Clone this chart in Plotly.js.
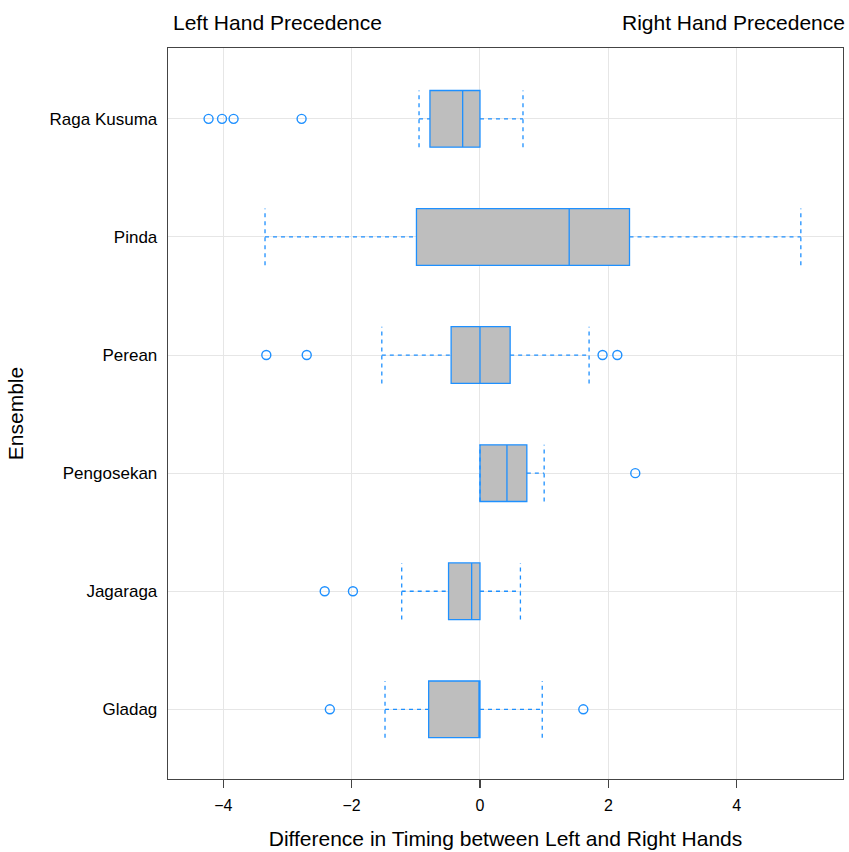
<!DOCTYPE html>
<html>
<head>
<meta charset="utf-8">
<script src="https://cdn.plot.ly/plotly-3.0.1.min.js"></script>
<style>
  html, body { margin: 0; padding: 0; background: #ffffff; }
  #chart { width: 849px; height: 852px; }
</style>
</head>
<body>
<div id="chart"></div>
<script>
// Ensembles, listed bottom to top
const ensembles = ["Gladag", "Jagaraga", "Pengosekan", "Perean", "Pinda", "Raga Kusuma"];

// Five-number summaries (difference between left and right hands)
const lowerWhisker = [-1.48, -1.22, 0.00, -1.53, -3.35, -0.95];
const q1           = [-0.80, -0.49, 0.00, -0.45, -0.99, -0.78];
const median       = [ 0.00, -0.13, 0.42,  0.00,  1.39, -0.27];
const q3           = [ 0.00,  0.00, 0.73,  0.47,  2.33,  0.00];
const upperWhisker = [ 0.97,  0.63, 1.00,  1.70,  5.00,  0.67];

// Outlying observations per ensemble
const outliers = [
  [-2.34, 1.61],
  [-2.42, -1.98],
  [2.42],
  [-3.33, -2.70, 1.91, 2.14],
  [],
  [-4.23, -4.02, -3.84, -2.78]
];

const xTicks = [-4, -2, 0, 2, 4];

const blue = "#1E90FF";
const boxHalf = 0.24;
const pos = ensembles.map((_, i) => i);

// dashed whiskers with end caps spanning the box height
const wx = [], wy = [];
pos.forEach(i => {
  wx.push(lowerWhisker[i], q1[i], null, q3[i], upperWhisker[i], null);
  wy.push(i, i, null, i, i, null);
  wx.push(lowerWhisker[i], lowerWhisker[i], null, upperWhisker[i], upperWhisker[i], null);
  wy.push(i - boxHalf, i + boxHalf, null, i - boxHalf, i + boxHalf, null);
});

const whiskers = {
  type: "scatter", mode: "lines", x: wx, y: wy,
  line: { color: blue, width: 1.3, dash: "4px,4px" },
  hoverinfo: "skip", showlegend: false
};

const boxes = {
  type: "box", orientation: "h",
  y: pos, q1: q1, median: median, q3: q3,
  lowerfence: q1, upperfence: q3,
  width: boxHalf * 2, whiskerwidth: 0,
  fillcolor: "#bebebe",
  line: { color: blue, width: 1.3 },
  boxpoints: false, showlegend: false
};

const ox = [], oy = [];
outliers.forEach((vals, i) => vals.forEach(v => { ox.push(v); oy.push(i); }));
const outlierPts = {
  type: "scatter", mode: "markers", x: ox, y: oy,
  marker: { symbol: "circle-open", size: 9, color: blue, line: { width: 1.4, color: blue } },
  showlegend: false
};

const font = "Liberation Sans, Arial, Helvetica, sans-serif";

const layout = {
  width: 849, height: 852,
  margin: { l: 168, r: 6, t: 48, b: 73 },
  paper_bgcolor: "#ffffff", plot_bgcolor: "#ffffff",
  font: { family: font, color: "#000000", size: 16 },
  showlegend: false,
  xaxis: {
    range: [-4.862, 5.657],
    tickvals: xTicks,
    ticks: "outside", ticklen: 8, tickwidth: 1.2, tickcolor: "#444444",
    ticklabelstandoff: 3,
    tickfont: { size: 16 },
    showgrid: true, gridcolor: "#e6e6e6", gridwidth: 1,
    zeroline: false,
    showline: true, mirror: true, linecolor: "#444444", linewidth: 1.3,
    title: { text: "Difference in Timing between Left and Right Hands", font: { size: 21 }, standoff: 18 }
  },
  yaxis: {
    range: [-0.59, 5.60],
    tickvals: pos, ticktext: ensembles,
    ticks: "outside", ticklen: 6, tickcolor: "rgba(0,0,0,0)",
    tickfont: { size: 17 },
    showgrid: true, gridcolor: "#e6e6e6", gridwidth: 1,
    zeroline: false,
    showline: true, mirror: true, linecolor: "#444444", linewidth: 1.3,
    title: { text: "Ensemble", font: { size: 21 }, standoff: 20 }
  },
  annotations: [
    { text: "Left Hand Precedence", xref: "paper", yref: "paper", x: 0, y: 1,
      xanchor: "left", yanchor: "bottom", xshift: 3, yshift: 12, showarrow: false,
      font: { size: 21 } },
    { text: "Right Hand Precedence", xref: "paper", yref: "paper", x: 1, y: 1,
      xanchor: "right", yanchor: "bottom", xshift: 4, yshift: 12, showarrow: false,
      font: { size: 21 } }
  ]
};

Plotly.newPlot("chart", [whiskers, boxes, outlierPts], layout, { displayModeBar: false, staticPlot: true });
</script>
</body>
</html>
